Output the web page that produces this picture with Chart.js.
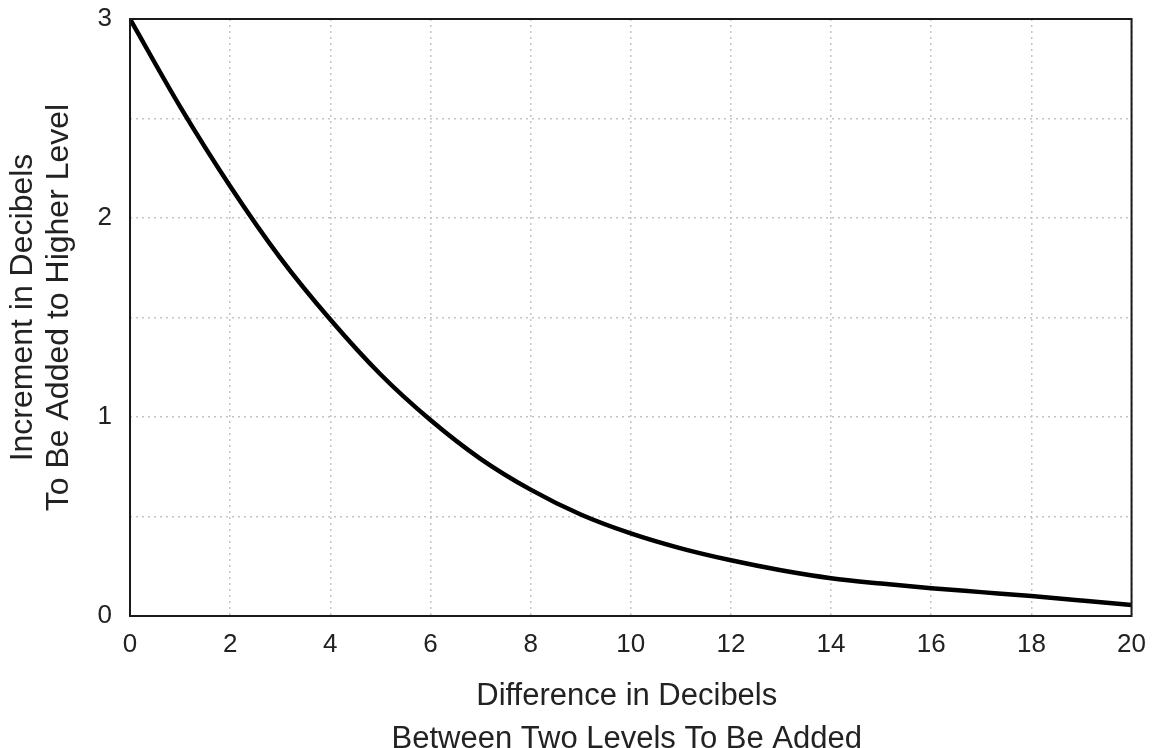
<!DOCTYPE html>
<html>
<head>
<meta charset="utf-8">
<script src="https://cdn.jsdelivr.net/npm/chart.js@4.4.1/dist/chart.umd.min.js"></script>
<style>
  html, body { margin: 0; padding: 0; background: #fff; overflow: hidden; }
  #wrap { width: 1159px; height: 748px; }
</style>
</head>
<body>
<div id="wrap"><canvas id="courbe" width="1159" height="748"></canvas></div>
<script>
// valeurs
const differences = [0, 1, 2, 3, 4, 5, 6, 7, 8, 9, 10, 11, 12, 13, 14, 15, 16, 17, 18, 19, 20];
const increments = [3.0, 2.56, 2.16, 1.80, 1.49, 1.215, 0.985, 0.79, 0.635, 0.51, 0.415, 0.34, 0.28, 0.23, 0.19, 0.163, 0.14, 0.12, 0.10, 0.078, 0.055];

const xTicks = [0, 2, 4, 6, 8, 10, 12, 14, 16, 18, 20];
const yGrid = [0, 0.5, 1, 1.5, 2, 2.5, 3];
const yLabels = [0, 1, 2, 3];

const xTitle = ['Difference in Decibels', 'Between Two Levels To Be Added'];
const yTitle = ['Increment in Decibels', 'To Be Added to Higher Level'];

const police = "'Liberation Sans', Arial, Helvetica, sans-serif";

// cadre noir + titres des axes
const cadre = {
  id: 'cadre',
  afterDraw(chart) {
    const { ctx, chartArea: a } = chart;
    ctx.save();
    ctx.strokeStyle = '#1a1a1a';
    ctx.lineWidth = 2;
    ctx.strokeRect(a.left, a.top, a.right - a.left, a.bottom - a.top);

    ctx.fillStyle = '#222';
    ctx.textAlign = 'center';
    ctx.textBaseline = 'middle';

    const cx = (a.left + a.right) / 2 - 4;
    ctx.font = '31px ' + police;
    ctx.fillText(xTitle[0], cx, a.bottom + 80);
    ctx.fillText(xTitle[1], cx, a.bottom + 123);

    const cy = (a.top + a.bottom) / 2 - 10;
    ctx.font = '32px ' + police;
    ctx.translate(0, cy);
    ctx.rotate(-Math.PI / 2);
    ctx.fillText(yTitle[0], 0, 23);
    ctx.fillText(yTitle[1], 0, 59);
    ctx.restore();
  }
};

new Chart(document.getElementById('courbe'), {
  type: 'line',
  data: {
    datasets: [{
      data: differences.map((d, i) => ({ x: d, y: increments[i] })),
      borderColor: '#000',
      borderWidth: 4.5,
      pointRadius: 0,
      fill: false,
      cubicInterpolationMode: 'monotone'
    }]
  },
  options: {
    responsive: false,
    animation: false,
    layout: { padding: { top: 19, right: 25, left: 0, bottom: 0 } },
    plugins: { legend: { display: false }, tooltip: { enabled: false } },
    scales: {
      x: {
        type: 'linear',
        min: 0,
        max: 20,
        afterBuildTicks: s => { s.ticks = xTicks.map(v => ({ value: v })); },
        afterFit: s => { s.height = 132; },
        grid: { color: '#c4c4c4', lineWidth: 1.5, drawTicks: false },
        border: { display: false, dash: [2, 4] },
        ticks: { color: '#222', padding: 13, maxRotation: 0, font: { size: 26, family: police } }
      },
      y: {
        type: 'linear',
        min: 0,
        max: 3,
        afterBuildTicks: s => { s.ticks = yGrid.map(v => ({ value: v })); },
        afterFit: s => { s.width = 130; s.paddingTop = 0; s.paddingBottom = 0; },
        grid: { color: '#c4c4c4', lineWidth: 1.5, drawTicks: false },
        border: { display: false, dash: [2, 4] },
        ticks: {
          color: '#222',
          padding: 18,
          font: { size: 26, family: police },
          callback: v => yLabels.includes(v) ? String(v) : ''
        }
      }
    }
  },
  plugins: [cadre]
});
</script>
</body>
</html>
